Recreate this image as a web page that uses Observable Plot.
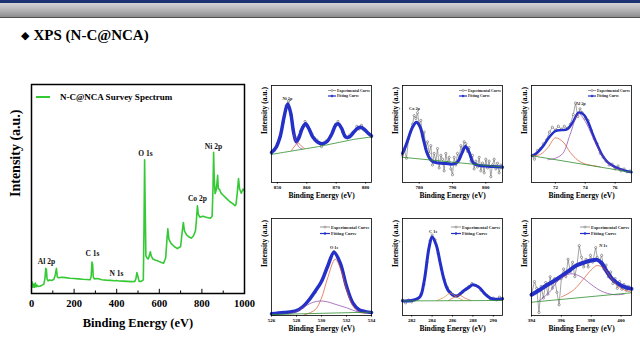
<!DOCTYPE html>
<html><head><meta charset="utf-8">
<script src="https://cdn.jsdelivr.net/npm/d3@7"></script>
<script src="https://cdn.jsdelivr.net/npm/@observablehq/plot@0.6"></script>
<style>
body{margin:0;background:#fff;}
#slide{position:relative;width:640px;height:360px;overflow:hidden;background:#fff;font-family:"Liberation Serif",serif;}
.hdr1{position:absolute;left:0;top:0;width:640px;height:3px;background:#1d3272;}
.hdr2{position:absolute;left:0;top:3px;width:640px;height:14px;background:linear-gradient(#d4d4d6,#b0b0b2 55%,#8c8c8e);}
.hdr3{position:absolute;left:0;top:17px;width:640px;height:1px;background:#505050;}
#title{position:absolute;left:21px;top:27px;font-weight:bold;font-size:15px;line-height:16px;color:#000;white-space:nowrap;}
#title .dia{font-family:"DejaVu Sans",sans-serif;font-size:11px;margin-right:4px;position:relative;top:-1px;}
.panel{position:absolute;}
</style></head>
<body>
<div id="slide">
  <div class="hdr1"></div><div class="hdr2"></div><div class="hdr3"></div>
  <div id="title"><span class="dia">◆</span>XPS (N-C@NCA)</div>
</div>
<script>
// ---------- survey spectrum ----------
const mainTicks = [0, 200, 400, 600, 800, 1000];
const mainMinor = [100, 300, 500, 700, 900];
const survey = [
  [0,3.5],[3,5.5],[6,3],[10,4.5],[14,3],[18,5],[22,3.2],[26,4],[30,3.4],[40,3.5],[50,4],[58,4.5],
  [63,7],[67,12],[70,11.5],[73,7],[78,6],[85,6.5],[95,6.2],[105,6.8],[112,9],[117,12],[121,8],[128,7.5],
  [140,7.8],[160,7.6],[180,7.3],[200,7.2],[220,7],[240,6.8],[260,6.7],[275,6.6],[280,8],[284,15],[287,14],
  [290,8],[295,7],[310,7.2],[330,6.6],[350,6.4],[370,6.3],[390,6.1],[400,6.2],[410,6],[430,5.9],[450,5.8],
  [470,5.7],[485,5.8],[490,7],[495,10],[500,8],[505,5.8],[515,5.8],[525,6.5],[528,30],[531,64],[534,40],
  [537,18],[542,17],[548,16.5],[553,18],[558,20],[562,18],[570,16.5],[580,16],[595,15.5],[610,14.8],[620,14.5],
  [630,17],[636,26],[640,31],[645,26],[655,24],[670,22.5],[685,21.5],[700,22.5],[708,30],[713,34],[718,30],
  [728,28],[740,27],[750,26.5],[760,27.5],[770,30],[775,36],[779,42],[783,38],[790,36.5],[805,37],[820,36.5],
  [840,36],[848,37],[852,50],[855,67.5],[858,55],[862,47.8],[866,49],[870,52],[874,56.5],[877,50],[882,50],
  [890,48],[900,47],[915,45.5],[930,44],[945,43],[955,42],[960,42.5],[966,48],[972,55],[977,50],[985,48],
  [993,50],[1000,49]
];
const surveyLabels = ["Al 2p", "C 1s", "N 1s", "O 1s", "Co 2p", "Ni 2p"];
const surveyLabelE = [70, 286, 399, 535, 779, 854];
const surveyLabelI = [15.3, 19.1, 9.6, 67, 45.5, 70.3];

// ---------- Ni 2p ----------
const niTicks = [850, 860, 870, 880];
const niFit = [[848,31],[849.5,36],[851,48],[852.3,68],[853.5,81],[854.5,72],[855.5,52],[856.4,42],[857.3,46],[858.5,56],[859.6,60.5],[860.8,55],[862,47],[863.5,42],[865.2,40],[866.8,42],[868.5,50],[869.8,59],[870.7,60.5],[871.8,56],[873.2,47],[874.5,47],[876,52],[877.3,56],[878.3,57],[879.5,55],[880.8,51],[882,48]];
const niExp = [[848,30],[849,33],[850,40],[851,47],[852,62],[853,79],[853.8,84],[854.6,70],[855.4,55],[856.2,44],[857,47],[857.8,53],[858.6,57],[859.4,63],[860.2,58],[861,53],[861.8,50],[862.6,46],[863.4,44],[864.2,41],[865,37],[865.8,41],[866.6,43],[867.4,44],[868.2,48],[869,54],[869.8,60],[870.6,63],[871.4,58],[872.2,52],[873,48],[873.8,46],[874.6,49],[875.4,51],[876.2,53],[877,58],[877.8,55],[878.6,59],[879.4,54],[880.2,53],[881,50],[882,47]];
const niBg = [[848,29],[852,31],[856,33],[860,35],[864,37],[868,39.5],[872,42],[876,44.5],[882,47]];
const niComp1 = [[854.8,33],[856,38],[857,41],[858,38],[859.2,35]];
const niComp2 = [[855.5,50],[856.5,41],[857.5,36],[858.5,34.5]];

// ---------- Co 2p ----------
const coTicks = [780, 790, 800];
const coFit = [[775,30],[776,38],[777,48],[778,57],[779.2,62],[780.3,57],[781.3,44],[782.3,31],[783.3,24],[784.5,21],[786,20],[788,19.5],[790,19],[791.5,21],[792.8,30],[793.9,37],[795,31],[796.3,20],[798,17.5],[800,17],[802,16.5],[805,16]];
const coExp = [[775,28],[775.6,33],[776.2,25],[776.8,45],[777.4,52],[778,60],[778.5,69],[779,66],[779.5,72],[780,60],[780.5,64],[781,48],[781.5,52],[782,35],[782.5,42],[783,30],[783.5,38],[784,18],[784.5,30],[785,22],[785.5,35],[786,15],[786.5,28],[787,24],[787.5,12],[788,30],[788.5,20],[789,26],[789.5,14],[790,8],[790.5,26],[791,18],[791.5,30],[792,24],[792.5,38],[793,34],[793.5,42],[794,40],[794.5,32],[795,36],[795.5,22],[796,28],[796.5,14],[797,22],[797.5,16],[798,26],[798.5,12],[799,20],[799.5,10],[800,24],[800.5,15],[801,22],[801.5,6],[802,18],[802.5,24],[803,14],[803.5,20],[804,10],[804.5,18],[805,15]];
const coBg = [[775,26],[805,16]];

// ---------- Al 2p ----------
const alTicks = [72, 74, 76];
const alFit = [[70.45,27.5],[70.8,31],[71.2,38],[71.6,47],[72.0,53],[72.4,54],[72.8,55],[73.2,63],[73.55,72],[73.9,70],[74.2,62],[74.5,50],[74.8,39],[75.15,28],[75.5,21],[76.05,15.6],[76.6,12.5],[77.1,10.5]];
const alExp = [[70.45,28],[70.6,24],[70.8,33],[71.0,35],[71.2,40],[71.4,44],[71.6,52],[71.8,57],[72.0,54],[72.2,58],[72.4,55],[72.6,58],[72.8,56],[73.0,60],[73.2,70],[73.35,82],[73.5,68],[73.65,76],[73.8,72],[74.0,66],[74.2,64],[74.4,54],[74.6,45],[74.8,40],[75.0,30],[75.2,26],[75.4,22],[75.6,18],[75.8,19],[76.0,14],[76.2,17],[76.4,12],[76.6,14],[76.8,11],[77.0,12]];
const alBg = [[70.45,27.5],[77.1,10.5]];
const alComp1 = [[70.45,27.5],[71.0,29],[71.5,36],[72.0,46],[72.5,42],[73.0,31],[73.5,23],[74.0,19],[74.5,17.5],[75.0,16.2]];
const alComp2 = [[71.5,23.5],[72.0,25],[72.5,30],[73.0,50],[73.55,71],[74.0,63],[74.5,47],[75.0,31],[75.5,21],[76.0,15],[76.5,13]];

// ---------- O 1s ----------
const oTicks = [526, 528, 530, 532, 534];
const oFit = [[526,1.7],[527,3],[528,5],[528.5,9],[529,16],[529.5,25],[530,35],[530.5,51],[531,65],[531.5,54],[532,30],[532.5,13],[533,6],[533.5,4],[534,3]];
const oExp = [[526,1.5],[526.5,2.5],[527,2.8],[527.5,3.6],[528,5.2],[528.5,8.6],[529,16.5],[529.5,24],[530,36],[530.5,50],[531,66],[531.5,53],[532,31],[532.5,12.5],[533,6.2],[533.5,3.8],[534,3.2]];
const oBg = [[526,1],[534,3.5]];
const oComp1 = [[528.6,0.5],[529.5,6],[530,18],[530.5,39],[531.1,58],[531.6,45],[532,27],[532.5,10],[533,3.5],[533.5,2.5]];
const oComp2 = [[527.3,1.5],[528,4],[528.5,8],[529.3,13.5],[529.9,15],[530.5,14],[531,12],[531.5,10],[532,8],[532.5,5.5],[533,3.5],[533.5,2.5]];

// ---------- C 1s ----------
const cTicks = [282, 284, 286, 288, 290];
const cFit = [[281.1,15],[282,15.5],[282.8,19],[283.2,34],[283.7,70],[284.0,81],[284.4,73],[284.8,54],[285.2,36],[285.6,25.5],[286.35,20],[287.1,25.5],[287.6,29],[288,31.6],[288.6,29],[289.2,22],[289.7,18],[290.2,16.7],[290.9,17]];
const cExp = [[281.1,16],[281.4,13],[281.7,16],[282,14],[282.3,16],[282.6,17],[282.9,22],[283.2,32],[283.5,55],[283.8,77],[284.0,83],[284.3,78],[284.6,64],[284.9,48],[285.2,37],[285.5,29],[285.8,24],[286.1,21],[286.4,20],[286.7,22],[287.0,24],[287.3,27],[287.6,30],[287.9,33],[288.2,31],[288.5,30],[288.8,26],[289.1,23],[289.4,20],[289.7,17],[290.0,18],[290.3,16],[290.6,19],[290.9,18]];
const cBg = [[281.1,15],[290.9,15.5]];
const cComp1 = [[284.5,15.5],[285.2,19],[285.8,23],[286.4,19],[287,16]];
const cComp2 = [[285.6,15.5],[286.2,19],[286.7,21],[287.2,18],[287.8,15.5]];

// ---------- N 1s ----------
const nTicks = [394, 396, 398, 400];
const nFit = [[394,21.3],[394.5,26],[395,31],[395.5,35.5],[396,40.5],[396.5,46],[397,51.5],[397.5,54.5],[398,56.7],[398.4,57.4],[398.7,54],[399,46.4],[399.4,37.8],[400,31],[400.7,27.5]];
const nExp = [[394,22],[394.2,35],[394.35,28],[394.5,3],[394.65,30],[394.8,18],[394.95,34],[395.1,22],[395.25,40],[395.4,28],[395.55,38],[395.7,24],[395.85,11],[396,38],[396.15,48],[396.3,40],[396.45,58],[396.6,45],[396.75,55],[396.9,40],[397.05,52],[397.2,72],[397.35,60],[397.5,50],[397.65,58],[397.8,50],[397.95,62],[398.1,55],[398.3,70],[398.4,60],[398.55,56],[398.7,62],[398.85,48],[399,52],[399.15,40],[399.3,45],[399.45,33],[399.6,38],[399.75,28],[399.9,35],[400.05,27],[400.2,32],[400.35,26],[400.5,30],[400.7,28]];
const nBg = [[394,13.7],[400.7,23.4]];
const nComp1 = [[394.5,15],[395.2,24],[395.8,36],[396.6,43],[397.3,40],[398,32],[398.7,25],[399.5,21.5],[400.2,22]];
const nComp2 = [[396,19],[396.8,26],[397.5,38],[398,47],[398.4,51.5],[398.9,48],[399.4,37],[400,28],[400.7,24]];

// ---------- drawing ----------
const BLUE = "#2430c8", GREEN = "#2f8f2f", RED = "#d9532c", PURPLE = "#8a3fa8";
const slide = document.getElementById("slide");
const baseStyle = {fontFamily: "'Liberation Serif', serif", fontWeight: "bold", background: "transparent", overflow: "visible", color: "#000"};
const X = d => d[0], Y = d => d[1];

function place(el, left, top) {
  const d = document.createElement("div");
  d.className = "panel";
  d.style.left = left + "px";
  d.style.top = top + "px";
  d.appendChild(el);
  slide.appendChild(d);
}

const main = Plot.plot({
  width: 256, height: 270, marginLeft: 31, marginRight: 12, marginTop: 14, marginBottom: 47,
  style: {...baseStyle, fontSize: "10.5px"},
  x: {domain: [0, 1000]},
  y: {domain: [0, 100], axis: null},
  marks: [
    Plot.ruleX(mainMinor, {y1: 0, y2: 1.2, stroke: "#000", strokeWidth: 1}),
    Plot.ruleX(mainTicks, {y1: 0, y2: 2, stroke: "#000", strokeWidth: 1}),
    Plot.line(survey, {x: X, y: Y, stroke: "#36c936", strokeWidth: 1.6}),
    Plot.axisX({ticks: mainTicks, tickSize: 0, tickPadding: 6, fontSize: 10.5, label: null, tickFormat: d => String(d)}),
    Plot.text(surveyLabels, {x: (d, i) => surveyLabelE[i], y: (d, i) => surveyLabelI[i], text: d => d, fontSize: 7.5, fill: "#111"}),
    Plot.text(["Binding Energy (eV)"], {frameAnchor: "bottom", dy: 33, fontSize: 12.5, text: d => d}),
    Plot.text(["Intensity (a.u.)"], {frameAnchor: "left", rotate: -90, dx: -16, dy: 8, fontSize: 14, text: d => d}),
    Plot.frame({stroke: "#000", strokeWidth: 1.5})
  ]
});
{
  const g = d3.select(main).append("g");
  g.append("line").attr("x1", 36).attr("x2", 50).attr("y1", 27).attr("y2", 27).attr("stroke", "#36c936").attr("stroke-width", 2);
  g.append("text").attr("x", 60).attr("y", 27).attr("dy", "0.35em").attr("text-anchor", "start").attr("font-size", 9).text("N-C@NCA Survey Spectrum");
}
place(main, 0, 70);

function panel(p) {
  const fw = 100, fh = 97, mL = 16, mT = 5, mR = 9, mB = 22;
  const comps = (p.comps || []).map(c => Plot.line(c[0], {x: X, y: Y, stroke: c[1], strokeWidth: 0.7, curve: "catmull-rom"}));
  const plot = Plot.plot({
    width: fw + mL + mR, height: fh + mT + mB,
    marginLeft: mL, marginTop: mT, marginRight: mR, marginBottom: mB,
    style: {...baseStyle, fontSize: "5px"},
    x: {domain: p.domain},
    y: {domain: [0, 100], axis: null},
    marks: [
      Plot.line(p.exp, {x: X, y: Y, stroke: "#666", strokeWidth: 0.6}),
      Plot.dot(p.exp, {x: X, y: Y, r: 1.1, stroke: "#444", strokeWidth: 0.5, fill: "#fff"}),
      Plot.line(p.fit, {x: X, y: Y, stroke: BLUE, strokeWidth: p.fitW, curve: "catmull-rom"}),
      ...comps,
      Plot.line(p.bg, {x: X, y: Y, stroke: GREEN, strokeWidth: 0.8}),
      Plot.axisX({ticks: p.ticks, tickSize: 1.5, tickPadding: 1, fontSize: 5, label: null, tickFormat: d => String(d)}),
      Plot.text([p.peak], {x: () => p.peakX, y: () => p.peakY, text: d => d, fontSize: 4.3, fill: "#222"}),
      Plot.text(["Binding Energy (eV)"], {frameAnchor: "bottom", dy: 15.5, fontSize: 7.5, text: d => d}),
      Plot.text(["Intensity (a.u.)"], {frameAnchor: "left", rotate: -90, dx: -7, fontSize: 7.5, text: d => d}),
      Plot.frame({stroke: "#000", strokeWidth: 0.8})
    ]
  });
  const g = d3.select(plot).append("g");
  const fr = mL + fw;
  const rows = [
    {y: mT + p.leg[0], label: "Experimental Curve", stroke: "#555", fill: "#fff", w: 0.6},
    {y: mT + p.leg[1], label: "Fitting Curve", stroke: BLUE, fill: BLUE, w: 1.2}
  ];
  rows.forEach(r => {
    g.append("line").attr("x1", fr - p.leg[2]).attr("x2", fr - p.leg[3]).attr("y1", r.y).attr("y2", r.y)
      .attr("stroke", r.stroke).attr("stroke-width", r.w);
    g.append("circle").attr("cx", fr - (p.leg[2] + p.leg[3]) / 2).attr("cy", r.y).attr("r", 1)
      .attr("stroke", r.stroke).attr("stroke-width", 0.5).attr("fill", r.fill);
    g.append("text").attr("x", fr - p.leg[4]).attr("y", r.y).attr("dy", "0.35em").attr("text-anchor", "start")
      .attr("font-size", p.leg[5]).attr("fill", "#222").text(r.label);
  });
  place(plot, p.left, p.top);
}

const legTop = [5.5, 11, 43, 35, 34, 3.8];
const legBot = [9, 15.5, 51, 41, 40, 4.4];

panel({left: 255, top: 80, domain: [848, 882], ticks: niTicks, fit: niFit, exp: niExp, bg: niBg,
  comps: [[niComp1, RED], [niComp2, PURPLE]], peak: "Ni 2p", peakX: 853.4, peakY: 87, fitW: 3.5, leg: legTop});
panel({left: 386, top: 80, domain: [775, 805], ticks: coTicks, fit: coFit, exp: coExp, bg: coBg,
  comps: [], peak: "Co 2p", peakX: 778.6, peakY: 76, fitW: 3, leg: legTop});
panel({left: 515, top: 80, domain: [70.4, 77.1], ticks: alTicks, fit: alFit, exp: alExp, bg: alBg,
  comps: [[alComp1, RED], [alComp2, PURPLE]], peak: "Al 2p", peakX: 73.7, peakY: 81, fitW: 2.5, leg: legTop});
panel({left: 255, top: 213, domain: [526, 534], ticks: oTicks, fit: oFit, exp: oExp, bg: oBg,
  comps: [[oComp1, RED], [oComp2, PURPLE]], peak: "O 1s", peakX: 531, peakY: 70, fitW: 3.5, leg: legBot});
panel({left: 386, top: 213, domain: [281.1, 290.9], ticks: cTicks, fit: cFit, exp: cExp, bg: cBg,
  comps: [[cComp1, "#e08a2a"], [cComp2, RED]], peak: "C 1s", peakX: 284.1, peakY: 87, fitW: 3, leg: legBot});
panel({left: 515, top: 213, domain: [394, 400.7], ticks: nTicks, fit: nFit, exp: nExp, bg: nBg,
  comps: [[nComp1, PURPLE], [nComp2, RED]], peak: "N 1s", peakX: 398.8, peakY: 72, fitW: 4, leg: legBot});
</script>
</body></html>
